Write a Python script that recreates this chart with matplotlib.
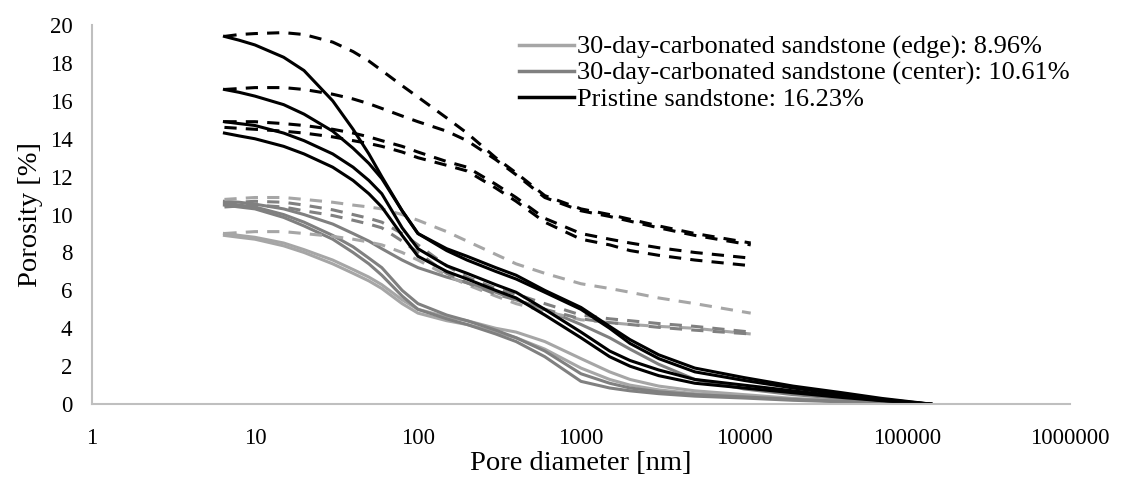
import matplotlib
matplotlib.use("Agg")
import matplotlib.pyplot as plt
from matplotlib.lines import Line2D

plt.rcParams['font.family'] = ['Liberation Serif', 'DejaVu Serif']

# pore diameter grids [nm]
d_full = [6.5, 8, 10, 15, 20, 30, 40, 50, 60, 80, 100, 150, 200, 300, 400, 600,
          1000, 1500, 2000, 3000, 5000, 10000, 20000, 40000, 70000, 140000]
d_short = [6.5, 8, 10, 15, 20, 30, 40, 50, 60, 80, 100, 150, 200, 300, 400, 600,
           1000, 1500, 2000, 3000, 5000, 11000]

# pristine sandstone, solid curves
pristine_solid = [
    [19.4, 19.2, 18.95, 18.3, 17.6, 16.0, 14.5, 13.2, 12.0, 10.2, 9.0, 8.2, 7.8, 7.2, 6.8, 6.0,
     5.1, 4.1, 3.4, 2.6, 1.9, 1.4, 0.95, 0.6, 0.3, 0.0],
    [16.6, 16.45, 16.25, 15.8, 15.3, 14.4, 13.5, 12.7, 11.9, 10.2, 9.0, 8.1, 7.6, 7.0, 6.6, 5.9,
     5.0, 4.0, 3.2, 2.4, 1.7, 1.25, 0.85, 0.5, 0.25, 0.0],
    [14.9, 14.8, 14.7, 14.3, 13.9, 13.2, 12.5, 11.8, 11.1, 9.3, 8.2, 7.3, 6.9, 6.3, 5.9, 5.0,
     3.8, 2.8, 2.3, 1.8, 1.3, 1.0, 0.7, 0.4, 0.2, 0.0],
    [14.3, 14.15, 14.0, 13.6, 13.2, 12.5, 11.8, 11.1, 10.4, 8.9, 7.8, 7.0, 6.6, 6.0, 5.6, 4.7,
     3.5, 2.5, 2.0, 1.5, 1.1, 0.85, 0.6, 0.35, 0.18, 0.0],
]
# pristine sandstone, dashed curves
pristine_dash = [
    [19.4, 19.5, 19.55, 19.6, 19.5, 19.1, 18.6, 18.1, 17.6, 16.8, 16.2, 15.1, 14.3, 13.0, 12.2, 11.0,
     10.3, 10.0, 9.75, 9.4, 9.0, 8.5],
    [16.6, 16.65, 16.7, 16.7, 16.6, 16.35, 16.1, 15.85, 15.6, 15.2, 14.9, 14.4, 13.9, 12.9, 12.1, 10.9,
     10.2, 9.9, 9.65, 9.3, 8.9, 8.4],
    [14.9, 14.9, 14.9, 14.8, 14.7, 14.5, 14.3, 14.1, 13.9, 13.6, 13.3, 12.8, 12.5, 11.6, 10.9, 9.8,
     9.0, 8.7, 8.5, 8.25, 8.0, 7.7],
    [14.6, 14.55, 14.5, 14.4, 14.3, 14.1, 13.9, 13.75, 13.6, 13.3, 13.0, 12.6, 12.3, 11.4, 10.7, 9.6,
     8.7, 8.4, 8.1, 7.85, 7.6, 7.3],
]
# 30-day carbonated, center (solid / dashed)
center_solid = [
    [10.6, 10.5, 10.4, 10.0, 9.6, 8.9, 8.3, 7.7, 7.2, 6.0, 5.3, 4.7, 4.4, 3.9, 3.5, 2.8,
     1.6, 1.1, 0.85, 0.65, 0.5, 0.38, 0.25, 0.15, 0.07, 0.0],
    [10.5, 10.4, 10.3, 9.85, 9.4, 8.7, 8.0, 7.4, 6.8, 5.7, 5.0, 4.5, 4.2, 3.7, 3.3, 2.5,
     1.2, 0.85, 0.7, 0.55, 0.42, 0.32, 0.2, 0.12, 0.05, 0.0],
    [10.7, 10.65, 10.55, 10.3, 10.0, 9.5, 9.0, 8.6, 8.2, 7.6, 7.2, 6.7, 6.4, 5.9, 5.5, 5.0,
     4.2, 3.5, 2.9, 2.1, 1.3, 0.8, 0.5, 0.3, 0.15, 0.0],
]
center_dash = [
    [10.6, 10.65, 10.7, 10.65, 10.5, 10.25, 10.0, 9.8, 9.6, 9.0, 8.4, 7.3, 6.7, 6.1, 5.8, 5.3,
     4.7, 4.5, 4.4, 4.25, 4.1, 3.8],
    [10.4, 10.45, 10.5, 10.4, 10.2, 9.95, 9.7, 9.5, 9.3, 8.6, 8.0, 6.9, 6.4, 5.8, 5.5, 5.0,
     4.5, 4.3, 4.2, 4.05, 3.9, 3.7],
]
# 30-day carbonated, edge (solid / dashed)
edge_solid = [
    [9.0, 8.9, 8.8, 8.5, 8.15, 7.6, 7.1, 6.7, 6.3, 5.5, 5.0, 4.6, 4.4, 4.0, 3.8, 3.3,
     2.4, 1.7, 1.3, 0.95, 0.7, 0.5, 0.3, 0.18, 0.08, 0.0],
    [8.9, 8.8, 8.7, 8.35, 8.0, 7.4, 6.9, 6.5, 6.1, 5.3, 4.8, 4.4, 4.2, 3.8, 3.5, 2.9,
     1.9, 1.3, 1.0, 0.75, 0.55, 0.4, 0.25, 0.14, 0.06, 0.0],
]
edge_dash = [
    [10.8, 10.85, 10.9, 10.9, 10.8, 10.65, 10.5, 10.4, 10.3, 10.0, 9.7, 9.1, 8.6, 7.9, 7.4, 6.9,
     6.35, 6.1, 5.9, 5.6, 5.3, 4.8],
    [9.0, 9.05, 9.1, 9.1, 9.0, 8.85, 8.7, 8.55, 8.4, 8.0, 7.6, 6.8, 6.3, 5.7, 5.3, 4.9,
     4.45, 4.3, 4.2, 4.1, 4.0, 3.7],
]

labels = ["30-day-carbonated sandstone (edge): 8.96%",
          "30-day-carbonated sandstone (center): 10.61%",
          "Pristine sandstone: 16.23%"]
c_edge, c_center, c_pristine = "#a6a6a6", "#808080", "#000000"

fig = plt.figure(figsize=(11.21, 4.91), dpi=100)
ax = fig.add_axes([0.082, 0.177, 0.8725, 0.772])

lw = 2.2
dash = (0, (4, 3))
for ys in edge_solid:
    ax.plot(d_full, ys, color=c_edge, lw=lw)
for ys in center_solid:
    ax.plot(d_full, ys, color=c_center, lw=lw)
for ys in edge_dash:
    ax.plot(d_short, ys, color=c_edge, lw=lw, ls=dash)
for ys in center_dash:
    ax.plot(d_short, ys, color=c_center, lw=lw, ls=dash)
for ys in pristine_dash:
    ax.plot(d_short, ys, color=c_pristine, lw=lw, ls=dash)
for ys in pristine_solid:
    ax.plot(d_full, ys, color=c_pristine, lw=lw)

ax.set_xscale("log")
ax.set_xlim(1, 1000000)
ax.set_ylim(0, 20)
ax.set_yticks(range(0, 21, 2))
ax.set_xticks([1, 10, 100, 1000, 10000, 100000, 1000000])
ax.set_xticklabels(["1", "10", "100", "1000", "10000", "100000", "1000000"])
ax.minorticks_off()
ax.tick_params(axis='x', length=0, labelsize=16.5, pad=17)
ax.tick_params(axis='y', length=0, labelsize=16.5, pad=14)
for s in ["top", "right"]:
    ax.spines[s].set_visible(False)
for s in ["left", "bottom"]:
    ax.spines[s].set_color("#bfbfbf")
    ax.spines[s].set_linewidth(1.5)

ax.set_xlabel("Pore diameter [nm]", fontsize=20.5, labelpad=2)
ax.set_ylabel("Porosity [%]", fontsize=20.5, labelpad=5)

handles = [Line2D([], [], color=c, lw=2.5) for c in (c_edge, c_center, c_pristine)]
ax.legend(handles, labels, loc="upper left", bbox_to_anchor=(0.4536, 0.949),
          bbox_transform=fig.transFigure, frameon=False, fontsize=19,
          handlelength=2.1, handletextpad=0.1, labelspacing=0.08, borderaxespad=0)

fig.savefig("out.png", dpi=100)
